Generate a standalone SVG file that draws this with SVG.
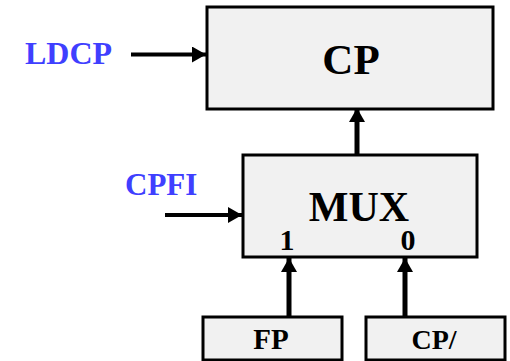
<svg xmlns="http://www.w3.org/2000/svg" width="510" height="361" viewBox="0 0 510 361">
<style>
.box{fill:#f1f1f1;stroke:#000;stroke-width:3}
.t{font-family:"Liberation Serif","Times New Roman",serif;font-weight:bold;fill:#000}
.lbl{font-family:"Liberation Serif","Times New Roman",serif;font-weight:bold;fill:#3f3fff}
.c{stroke:#000;fill:none}
</style>
<defs>
<marker id="ah" markerUnits="userSpaceOnUse" markerWidth="16" markerHeight="18" refX="14" refY="8" orient="auto">
<path d="M0,0 L14,8 L0,16 z" fill="#000"/>
</marker>
</defs>
<rect width="510" height="361" fill="#fff"/>
<g id="cp"><rect class="box" x="207" y="7" width="286" height="102"/><text class="t" x="351" y="74" font-size="43" text-anchor="middle">CP</text></g>
<g id="mux"><rect class="box" x="243" y="155" width="234" height="102"/><text class="t" x="359" y="221" font-size="42" text-anchor="middle">MUX</text><text class="t" x="287" y="250" font-size="30" text-anchor="middle">1</text><text class="t" x="408" y="250" font-size="30" text-anchor="middle">0</text></g>
<g id="fp"><rect class="box" x="203" y="317" width="139" height="43"/><text class="t" x="271" y="349" font-size="29" text-anchor="middle">FP</text></g>
<g id="cpn"><rect class="box" x="366" y="317" width="139" height="43"/><text class="t" x="434" y="349" font-size="28" text-anchor="middle">CP/</text></g>
<g id="ldcp"><text class="lbl" x="25" y="64" font-size="32">LDCP</text></g>
<g id="cpfi"><text class="lbl" x="125" y="195" font-size="31">CPFI</text></g>
<g id="connectors">
<path class="c" d="M131,54.5 H206" stroke-width="4" marker-end="url(#ah)"/>
<path class="c" d="M165,215 H242" stroke-width="4" marker-end="url(#ah)"/>
<path class="c" d="M357,155 V108" stroke-width="5" marker-end="url(#ah)"/>
<path class="c" d="M289,317 V258" stroke-width="5" marker-end="url(#ah)"/>
<path class="c" d="M405,317 V258" stroke-width="5" marker-end="url(#ah)"/>
</g>
</svg>
